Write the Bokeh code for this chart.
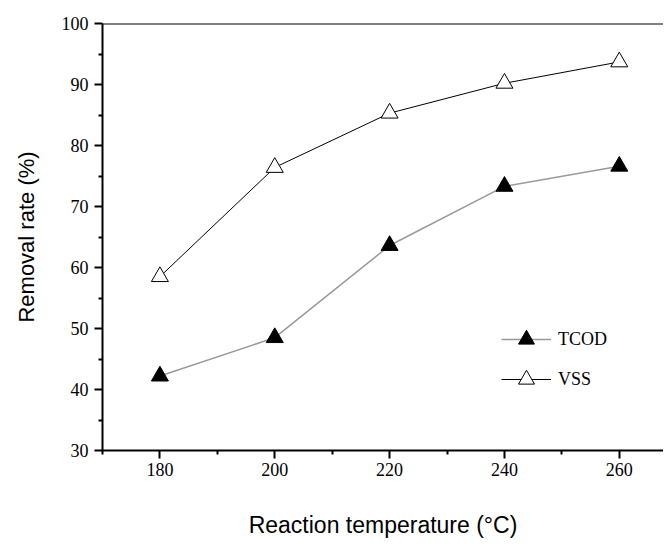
from bokeh.plotting import figure
from bokeh.models import FixedTicker, Span, Range1d, Legend, LegendItem
from bokeh.embed import file_html
from bokeh.resources import INLINE

temperature = [180, 200, 220, 240, 260]
tcod = [42.2, 48.5, 63.6, 73.3, 76.6]
vss = [58.5, 76.4, 85.3, 90.2, 93.7]
x_major = [180, 200, 220, 240, 260]
x_minor = [170, 190, 210, 230, 250, 270]
y_major = [30, 40, 50, 60, 70, 80, 90, 100]
y_minor = [35, 45, 55, 65, 75, 85, 95]

p = figure(width=663, height=541, output_backend="svg", toolbar_location=None,
           x_range=Range1d(170, 267.7), y_range=Range1d(30, 100),
           min_border_left=102, min_border_top=23, min_border_right=0, min_border_bottom=91)
p.outline_line_color = None
p.xgrid.grid_line_color = None
p.ygrid.grid_line_color = None
p.background_fill_color = "white"

p.xaxis.ticker = FixedTicker(ticks=x_major, minor_ticks=x_minor)
p.yaxis.ticker = FixedTicker(ticks=y_major, minor_ticks=y_minor)

for ax in (p.xaxis, p.yaxis):
    ax.axis_line_width = 2
    ax.axis_line_color = "black"
    ax.major_tick_line_width = 2
    ax.minor_tick_line_width = 2
    ax.major_tick_line_color = "black"
    ax.minor_tick_line_color = "black"
    ax.major_tick_in = 0
    ax.major_tick_out = 8
    ax.minor_tick_in = 0
    ax.minor_tick_out = 4
    ax.major_label_text_font = "Liberation Serif"
    ax.major_label_text_font_size = "18px"
    ax.major_label_text_color = "black"
    ax.major_label_standoff = 6
    ax.axis_label_text_font = "Liberation Sans"
    ax.axis_label_text_font_style = "normal"
    ax.axis_label_text_color = "black"

p.xaxis.major_label_standoff = 4
p.xaxis.axis_label = "Reaction temperature (\u00b0C)"
p.yaxis.axis_label = "Removal rate (%)"
p.xaxis.axis_label_text_font_size = "23px"
p.yaxis.axis_label_text_font_size = "22px"
p.xaxis.axis_label_standoff = 33
p.yaxis.axis_label_standoff = 20

p.add_layout(Span(location=100, dimension="width", line_color="black", line_width=2))

l1 = p.line(temperature, tcod, line_color="#999999", line_width=1.5)
m1 = p.scatter(temperature, tcod, marker="triangle", size=17,
               fill_color="black", line_color="black", line_width=1)
l2 = p.line(temperature, vss, line_color="black", line_width=1)
m2 = p.scatter(temperature, vss, marker="triangle", size=17,
               fill_color="white", line_color="black", line_width=1)

legend = Legend(items=[LegendItem(label="TCOD", renderers=[l1, m1]),
                       LegendItem(label="VSS", renderers=[l2, m2])],
                location=(399, 51), padding=0, margin=0, spacing=0,
                glyph_width=50, glyph_height=40, label_height=40, label_standoff=7,
                label_text_font="Liberation Serif", label_text_font_size="18px",
                label_text_color="black",
                border_line_color=None, background_fill_alpha=0)
p.add_layout(legend)

open("out.html", "w").write(file_html(p, INLINE))
